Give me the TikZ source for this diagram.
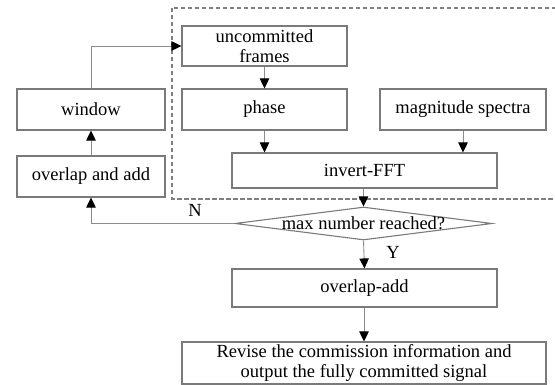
\documentclass[tikz,border=0pt]{standalone}
\usepackage{fontspec}
\setmainfont{Liberation Serif}
\usetikzlibrary{arrows.meta,shapes.geometric}
\definecolor{linegray}{HTML}{8C8C8C}
\definecolor{boxgray}{HTML}{7A7A7A}
\definecolor{dashgray}{HTML}{7F7F7F}
\tikzset{
  pbox/.style={draw=boxgray, line width=1.1pt, rectangle, inner sep=2pt, align=center, font=\fontsize{18.5}{20}\selectfont},
  arr/.style={draw=linegray, line width=0.9pt, -{Triangle[length=10pt,width=9.5pt,color=black]}},
  lbl/.style={font=\fontsize{18.5}{20}\selectfont, inner sep=0pt},
}
\begin{document}
\begin{tikzpicture}[x=1pt,y=-1pt]
\useasboundingbox (0,0) rectangle (555,385);
% dashed frame
\draw[draw=dashgray, line width=1.1pt, dash pattern=on 4.5pt off 2.5pt] (172,8) rectangle (565,199);
% boxes
\node[pbox, minimum width=165, minimum height=40] (unc) at (264.5,46) {uncommitted\\frames};
\node[pbox, minimum width=165, minimum height=41] (phase) at (264.5,109.5) {phase};
\node[pbox, minimum width=166, minimum height=41] (mag) at (463,109.5) {magnitude spectra};
\node[pbox, minimum width=265, minimum height=35] (fft) at (364.5,170.5) {invert-FFT};
\node[pbox, minimum width=148, minimum height=41] (window) at (91,109.5) {window};
\node[pbox, minimum width=148, minimum height=41] (ola) at (91,176.5) {overlap and add};
\node[diamond, draw=boxgray, line width=1.1pt, minimum width=257, minimum height=33, inner sep=0pt] (dia) at (363.5,223.5) {};
\node[lbl] (diatext) at (dia.center) {max number reached?};
\node[pbox, minimum width=265, minimum height=38] (ola2) at (364.5,288) {overlap-add};
\node[pbox, minimum width=364, minimum height=42] (rev) at (364,363) {Revise the commission information and\\output the fully committed signal};
% labels
\node[lbl] (nlab) at (195,210) {N};
\node[lbl] (ylab) at (393,252) {Y};
% connectors
\draw[arr] (window.north) |- (unc.west);
\draw[arr] (ola.north) -- (window.south);
\draw[arr] (dia.west) -| (ola.south);
\draw[arr] (unc.south) -- (phase.north);
\draw[arr] (phase.south) -- (phase.south |- fft.north);
\draw[arr] (mag.south) -- (mag.south |- fft.north);
\draw[arr] (fft.south -| dia.north) -- (dia.north);
\draw[arr] (dia.south) -- (ola2.north);
\draw[arr] (ola2.south -| rev.north) -- (rev.north);
\end{tikzpicture}
\end{document}
